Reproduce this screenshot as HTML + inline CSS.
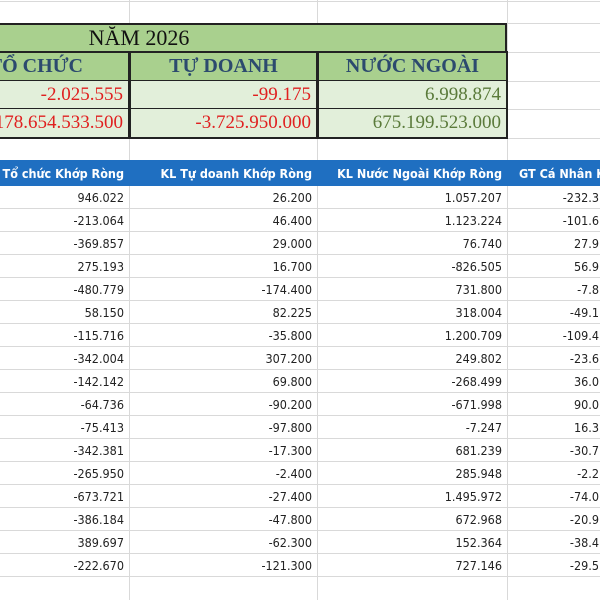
<!DOCTYPE html>
<html><head><meta charset="utf-8"><style>
body{margin:0;width:600px;height:600px;overflow:hidden;background:#fff;position:relative;font-family:"DejaVu Sans Condensed","DejaVu Sans","Liberation Sans",sans-serif}
.gl{position:absolute;background:#d9d9d9}
.c{position:absolute;box-sizing:border-box;white-space:nowrap;overflow:hidden;display:flex;align-items:center}
</style></head><body>
<div id="grid"></div>
<div id="topsec"></div>
<div id="tbl"></div>
<script>
const cols=[[0,129],[129,317],[317,507],[507,600]];
const gridBox=document.getElementById('grid');
[129,317,507].forEach(x=>{const d=document.createElement('div');d.className='gl';d.style.cssText=`left:${x}px;top:0;width:1px;height:600px`;


gridBox.appendChild(d);});
[1,23,52,81,109,138,160].concat([...Array(18)].map((_,i)=>185+23*i)).forEach(y=>{const d=document.createElement('div');d.className='gl';d.style.cssText=`left:0;top:${y}px;width:600px;height:1px`;


gridBox.appendChild(d);});

const topBox=document.getElementById('topsec');
function cell(parent,x,y,w,h,txt,style,name,just){const d=document.createElement('div');d.className='c';d.style.cssText=`left:${x}px;top:${y}px;width:${w}px;height:${h}px;justify-content:${just};`+style;
const s=document.createElement('span');s.style.flexShrink='0';s.textContent=txt;d.appendChild(s);


parent.appendChild(d);}
cell(topBox,0,23,507,30,'NĂM 2026','background:#a9d08e;border:2px solid #222;border-left:none;font-family:"Liberation Serif",serif;font-size:22px;color:#111;padding-right:227px;','year-title','center');
const hdr=['TỔ CHỨC','TỰ DOANH','NƯỚC NGOÀI'];
const v1=['-2.025.555','-99.175','6.998.874'];
const v2=['-178.654.533.500','-3.725.950.000','675.199.523.000'];
const vc=['#e02020','#e02020','#5a7a3a'];
for(let i=0;i<3;i++){const x=cols[i][0],w=cols[i][1]-cols[i][0]+1;const bl=i==0?'border-left:none;':'';
cell(topBox,x,51,w,31,hdr[i],'background:#a9d08e;border:2px solid #222;'+bl+'font-family:"Liberation Serif",serif;font-weight:bold;font-size:20px;color:#2c4a6e;'+(i==0?'padding-right:45px;':''),'group-header',i==0?'flex-end':'center');
cell(topBox,x,80,w,30,v1[i],`background:#e2efda;border:1px solid #222;border-left-width:2px;border-right-width:2px;${bl}padding-right:5px;font-family:"Liberation Serif",serif;font-size:19px;color:${vc[i]};`,'volume-total','flex-end');
cell(topBox,x,108,w,31,v2[i],`background:#e2efda;border:2px solid #222;border-top-width:1px;${bl}padding-right:5px;font-family:"Liberation Serif",serif;font-size:19px;color:${vc[i]};`,'value-total','flex-end');}

const tblBox=document.getElementById('tbl');
const heads=['KL Tổ chức Khớp Ròng','KL Tự doanh Khớp Ròng','KL Nước Ngoài Khớp Ròng','GT Cá Nhân Khớp Ròng'];
const colA=['946.022','-213.064','-369.857','275.193','-480.779','58.150','-115.716','-342.004','-142.142','-64.736','-75.413','-342.381','-265.950','-673.721','-386.184','389.697','-222.670'];
const colB=['26.200','46.400','29.000','16.700','-174.400','82.225','-35.800','307.200','69.800','-90.200','-97.800','-17.300','-2.400','-27.400','-47.800','-62.300','-121.300'];
const colC=['1.057.207','1.123.224','76.740','-826.505','731.800','318.004','1.200.709','249.802','-268.499','-671.998','-7.247','681.239','285.948','1.495.972','672.968','152.364','727.146'];
const colD=['-232.3','-101.6','27.9','56.9','-7.8','-49.1','-109.4','-23.6','36.0','90.0','16.3','-30.7','-2.2','-74.0','-20.9','-38.4','-29.5'];
for(let i=0;i<4;i++){const x=cols[i][0],w=cols[i][1]-cols[i][0]+(i<3?1:0);
cell(tblBox,x,160,w,26,heads[i],`background:#1f6fc1;color:#fff;font-weight:bold;font-size:12.5px;padding:0 5px 0 ${i<3?0:12}px;border-right:${i<3?'1px solid #fff':'none'};`,'column-header',i<3?'flex-end':'flex-start');}
const data=[colA,colB,colC,colD];
for(let i=0;i<4;i++){const x=cols[i][0],w=cols[i][1]-cols[i][0];
data[i].forEach((v,r)=>{cell(tblBox,x,186+23*r,w,22,v,`padding-right:${i<3?5:1}px;font-size:12.5px;color:#222;`,'data-cell','flex-end');});}
</script>
</body></html>
